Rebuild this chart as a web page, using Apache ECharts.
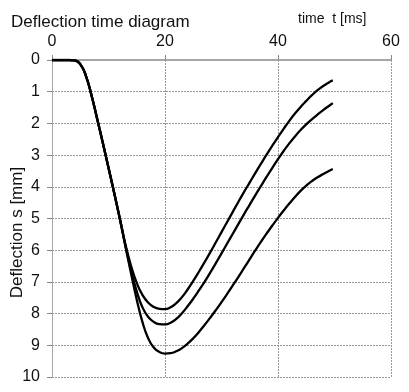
<!DOCTYPE html>
<html>
<head>
<meta charset="utf-8">
<script src="https://cdn.jsdelivr.net/npm/echarts@6/dist/echarts.min.js"></script>
<style>
  html, body { margin: 0; padding: 0; background: #fff; }
  #chart { width: 409px; height: 392px; }
</style>
</head>
<body>
<div id="chart"></div>
<script>
// time [ms] / deflection [mm]
const commonPart = [
  [0, 0], [1, 0], [2, 0], [3, 0], [4, 0.01], [5, 0.13], [6, 0.5],
  [7, 1.12], [8, 1.86], [9, 2.62], [10, 3.4], [11, 4.19], [12, 5.0]
]
const curveTop = [
  [13, 5.82], [14, 6.5], [15, 7.03], [16, 7.41], [17, 7.65], [18, 7.79],
  [19, 7.85], [20, 7.86], [21, 7.8], [22, 7.67], [23, 7.48], [24, 7.24],
  [25, 6.97], [26, 6.68], [27, 6.38], [28, 6.07], [29, 5.75], [30, 5.43],
  [31, 5.11], [32, 4.79], [33, 4.47], [34, 4.16], [35, 3.86], [36, 3.56],
  [37, 3.27], [38, 2.98], [39, 2.7], [40, 2.43], [41, 2.17], [42, 1.92],
  [43, 1.69], [44, 1.48], [45, 1.29], [46, 1.11], [47, 0.95], [48, 0.82],
  [49, 0.71], [49.7, 0.64]
]
const curveMid = [
  [13, 5.86], [14, 6.64], [15, 7.3], [16, 7.8], [17, 8.1], [18, 8.26],
  [19, 8.33], [20, 8.34], [21, 8.29], [22, 8.17], [23, 7.99], [24, 7.77],
  [25, 7.53], [26, 7.27], [27, 7.0], [28, 6.71], [29, 6.41], [30, 6.1],
  [31, 5.79], [32, 5.48], [33, 5.17], [34, 4.86], [35, 4.56], [36, 4.26],
  [37, 3.97], [38, 3.68], [39, 3.4], [40, 3.13], [41, 2.87], [42, 2.63],
  [43, 2.41], [44, 2.21], [45, 2.03], [46, 1.87], [47, 1.72], [48, 1.58],
  [49, 1.45], [49.7, 1.36]
]
const curveLow = [
  [13, 5.88], [14, 6.74], [15, 7.56], [16, 8.26], [17, 8.77], [18, 9.07],
  [19, 9.21], [20, 9.26], [21, 9.25], [22, 9.19], [23, 9.09], [24, 8.95],
  [25, 8.78], [26, 8.58], [27, 8.36], [28, 8.13], [29, 7.89], [30, 7.64],
  [31, 7.38], [32, 7.11], [33, 6.84], [34, 6.56], [35, 6.28], [36, 6.0],
  [37, 5.73], [38, 5.47], [39, 5.22], [40, 4.98], [41, 4.75], [42, 4.53],
  [43, 4.32], [44, 4.13], [45, 3.96], [46, 3.82], [47, 3.7], [48, 3.6],
  [49, 3.5], [49.7, 3.44]
]

const font = 'Liberation Sans, Arial, sans-serif'
const gridLine = { show: true, lineStyle: { color: '#9a9a9a', type: [2, 1], width: 1 } }
const axisLabel = { color: '#111', fontSize: 16, fontFamily: font }

function curve (rest) {
  return {
    type: 'line',
    data: commonPart.concat(rest),
    smooth: 0.5,
    showSymbol: false,
    lineStyle: { color: '#000', width: 2.3 },
    z: 5
  }
}

const option = {
  backgroundColor: '#fff',
  animation: false,
  title: [
    {
      text: 'Deflection time diagram',
      left: 6,
      top: 9,
      textStyle: { fontSize: 17, fontWeight: 'normal', color: '#111', fontFamily: font }
    },
    {
      text: 'time  t [ms]',
      left: 293,
      top: 7,
      textStyle: { fontSize: 14, fontWeight: 'normal', color: '#111', fontFamily: font }
    }
  ],
  grid: { left: 52, top: 60, right: 18, bottom: 15, outerBoundsMode: 'none' },
  xAxis: {
    type: 'value',
    position: 'top',
    min: 0,
    max: 60,
    interval: 20,
    axisLine: { show: true, onZero: false, lineStyle: { color: '#a5a5a5', width: 2 } },
    axisTick: { show: true, length: 5, lineStyle: { color: '#888' } },
    axisLabel: Object.assign({ margin: 10 }, axisLabel),
    splitLine: gridLine
  },
  yAxis: {
    type: 'value',
    inverse: true,
    min: 0,
    max: 10,
    interval: 1,
    name: 'Deflection s [mm]',
    nameLocation: 'middle',
    nameGap: 26,
    nameMoveOverlap: false,
    nameTextStyle: { fontSize: 17, color: '#111', fontFamily: font, padding: [0, 0, 0, -28] },
    axisLine: { show: true, onZero: false, lineStyle: { color: '#a5a5a5', width: 1 } },
    axisTick: { show: true, length: 5, lineStyle: { color: '#888' } },
    axisLabel: Object.assign({ margin: 12 }, axisLabel),
    splitLine: gridLine
  },
  series: [curve(curveTop), curve(curveMid), curve(curveLow)]
}

const myChart = echarts.init(document.getElementById('chart'))
myChart.setOption(option)
</script>
</body>
</html>
